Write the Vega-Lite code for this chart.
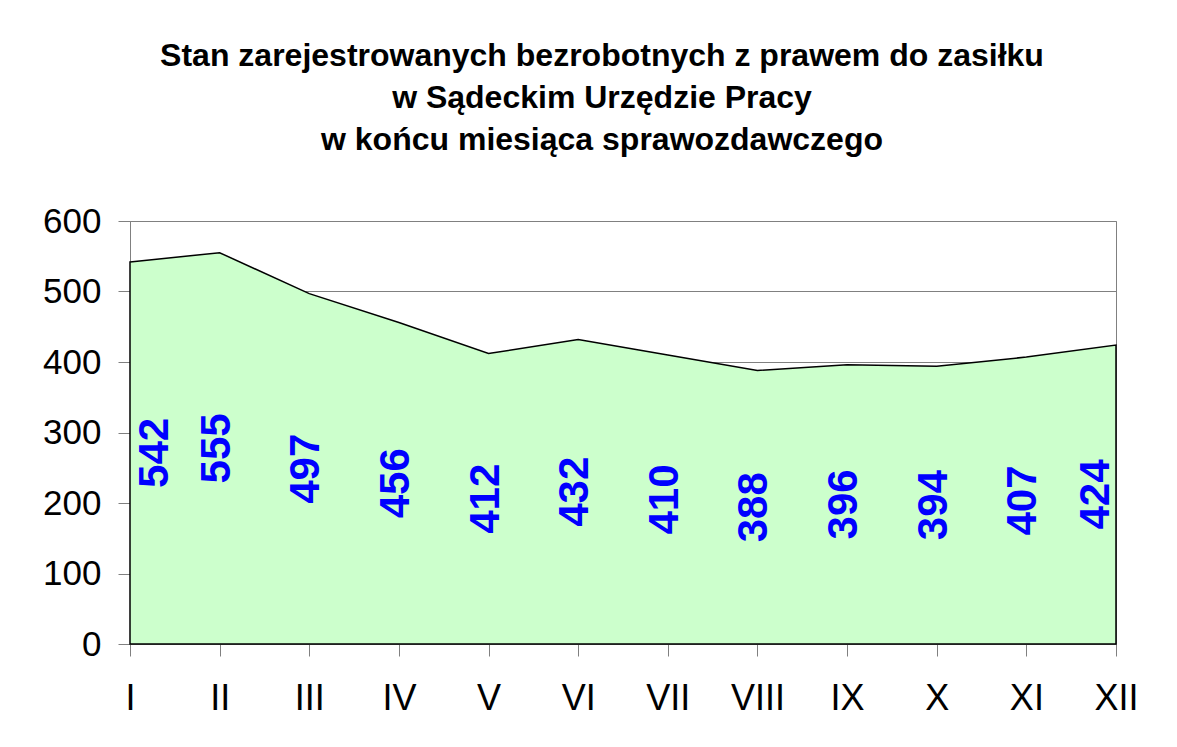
{
  "$schema": "https://vega.github.io/schema/vega-lite/v6.json",
  "width": 986,
  "height": 423,
  "autosize": {"type": "none"},
  "padding": {"left": 130, "top": 221, "right": 61, "bottom": 103},
  "background": "white",
  "config": {
    "view": {"stroke": "#808080", "strokeWidth": 1},
    "font": "Liberation Sans"
  },
  "title": {
    "text": ["Stan zarejestrowanych bezrobotnych z prawem do zasiłku", "w Sądeckim Urzędzie Pracy", "w końcu miesiąca sprawozdawczego"],
    "font": "Liberation Sans",
    "fontSize": 32,
    "fontWeight": "bold",
    "color": "black",
    "lineHeight": 42,
    "anchor": "middle",
    "dx": -21,
    "offset": 47
  },
  "data": {
    "values": [
      {"miesiac": "I", "liczba": 542},
      {"miesiac": "II", "liczba": 555},
      {"miesiac": "III", "liczba": 497},
      {"miesiac": "IV", "liczba": 456},
      {"miesiac": "V", "liczba": 412},
      {"miesiac": "VI", "liczba": 432},
      {"miesiac": "VII", "liczba": 410},
      {"miesiac": "VIII", "liczba": 388},
      {"miesiac": "IX", "liczba": 396},
      {"miesiac": "X", "liczba": 394},
      {"miesiac": "XI", "liczba": 407},
      {"miesiac": "XII", "liczba": 424}
    ]
  },
  "layer": [
    {
      "mark": {"type": "area", "fill": "#CCFFCC", "stroke": "black", "strokeWidth": 1.5, "fillOpacity": 1},
      "encoding": {
        "x": {
          "field": "miesiac", "type": "ordinal", "sort": null,
          "scale": {"type": "point", "padding": 0},
          "axis": {
            "title": null, "labelAngle": 0, "labelFontSize": 36, "labelColor": "black",
            "labelFont": "Liberation Sans", "labelPadding": 25,
            "domainColor": "#808080", "tickColor": "#808080", "tickSize": 12, "grid": false
          }
        },
        "y": {
          "field": "liczba", "type": "quantitative",
          "scale": {"domain": [0, 600], "nice": false},
          "axis": {
            "title": null, "values": [0, 100, 200, 300, 400, 500, 600],
            "labelFontSize": 35, "labelColor": "black", "labelFont": "Liberation Sans",
            "labelPadding": 17, "grid": true, "gridColor": "#808080", "gridOpacity": 1,
            "domainColor": "#808080", "tickColor": "#808080", "tickSize": 12
          }
        }
      }
    },
    {
      "transform": [{"filter": "datum.miesiac === 'I'"}],
      "mark": {"type": "text", "angle": 270, "fontSize": 42, "fontWeight": "bold", "color": "#0000FF", "align": "center", "baseline": "middle", "dy": 25},
      "encoding": {
        "x": {"field": "miesiac", "type": "ordinal", "sort": null},
        "y": {"field": "liczba", "type": "quantitative", "scale": {"domain": [0, 1200], "nice": false}, "axis": null},
        "text": {"field": "liczba", "type": "quantitative"}
      }
    },
    {
      "transform": [{"filter": "datum.miesiac !== 'I' && datum.miesiac !== 'XII'"}],
      "mark": {"type": "text", "angle": 270, "fontSize": 42, "fontWeight": "bold", "color": "#0000FF", "align": "center", "baseline": "middle", "dy": -3},
      "encoding": {
        "x": {"field": "miesiac", "type": "ordinal", "sort": null},
        "y": {"field": "liczba", "type": "quantitative", "scale": {"domain": [0, 1200], "nice": false}, "axis": null},
        "text": {"field": "liczba", "type": "quantitative"}
      }
    },
    {
      "transform": [{"filter": "datum.miesiac === 'XII'"}],
      "mark": {"type": "text", "angle": 270, "fontSize": 42, "fontWeight": "bold", "color": "#0000FF", "align": "center", "baseline": "middle", "dy": -20},
      "encoding": {
        "x": {"field": "miesiac", "type": "ordinal", "sort": null},
        "y": {"field": "liczba", "type": "quantitative", "scale": {"domain": [0, 1200], "nice": false}, "axis": null},
        "text": {"field": "liczba", "type": "quantitative"}
      }
    }
  ],
  "resolve": {"scale": {"y": "independent"}}
}
